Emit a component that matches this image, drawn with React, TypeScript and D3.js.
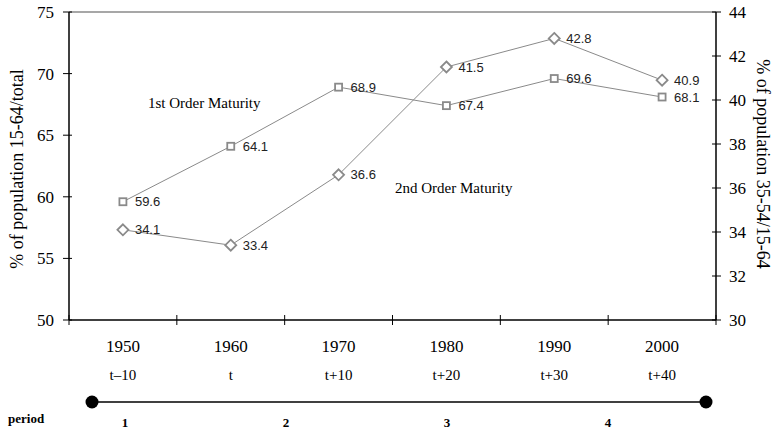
import React from 'react';
import * as d3 from 'd3';

// data
const years = ['1950', '1960', '1970', '1980', '1990', '2000'];
const relTime = ['t–10', 't', 't+10', 't+20', 't+30', 't+40'];
const firstOrder = [59.6, 64.1, 68.9, 67.4, 69.6, 68.1];   // left axis, squares
const secondOrder = [34.1, 33.4, 36.6, 41.5, 42.8, 40.9];  // right axis, diamonds
const leftTicks = [50, 55, 60, 65, 70, 75];
const rightTicks = [30, 32, 34, 36, 38, 40, 42, 44];
const periods = ['1', '2', '3', '4'];

const W = 774, H = 430;
const margin = { top: 12, left: 69, right: 58, bottom: 110 };
const serif = '"Liberation Serif", "Times New Roman", serif';
const sans = '"Liberation Sans", Arial, sans-serif';
const grey = '#8a8a8a';

export default function App() {
  const x = d3.scaleBand().domain(years).range([margin.left, W - margin.right]);
  const yL = d3.scaleLinear().domain([50, 75]).range([H - margin.bottom, margin.top]);
  const yR = d3.scaleLinear().domain([30, 44]).range([H - margin.bottom, margin.top]);
  const cx = (i: number) => (x(years[i]) as number) + x.bandwidth() / 2;
  const bottom = H - margin.bottom;
  const x0 = margin.left, x1 = W - margin.right;

  const lineL = d3.line<number>().x((d, i) => cx(i)).y(d => yL(d));
  const lineR = d3.line<number>().x((d, i) => cx(i)).y(d => yR(d));

  // period strip
  const pScale = d3.scalePoint().domain(periods).range([125, 608]);
  const stripY = 402;

  return (
    <svg width={W} height={H} style={{ position: 'absolute', left: 0, top: 0 }}>
      <rect width={W} height={H} fill="#fff" />
      {/* top frame line */}
      <line x1={x0} x2={x1} y1={margin.top} y2={margin.top} stroke={grey} strokeWidth={1.5} />
      {/* left axis */}
      <line x1={x0} x2={x0} y1={margin.top} y2={bottom} stroke="#000" strokeWidth={1.5} />
      {leftTicks.map(t => (
        <g key={t}>
          <line x1={x0 - 6} x2={x0 + 3} y1={yL(t)} y2={yL(t)} stroke="#000" />
          <text x={x0 - 15} y={yL(t)} dy="0.35em" textAnchor="end" fontFamily={serif} fontSize={17}>{t}</text>
        </g>
      ))}
      {/* right axis */}
      <line x1={x1} x2={x1} y1={margin.top} y2={bottom} stroke="#000" strokeWidth={1.5} />
      {rightTicks.map(t => (
        <g key={t}>
          <line x1={x1 - 4} x2={x1 + 5} y1={yR(t)} y2={yR(t)} stroke="#000" />
          <text x={x1 + 13} y={yR(t)} dy="0.35em" fontFamily={serif} fontSize={17}>{t}</text>
        </g>
      ))}
      {/* bottom axis */}
      <line x1={x0} x2={x1} y1={bottom} y2={bottom} stroke="#000" strokeWidth={1.5} />
      {years.map((yr, i) => (
        <g key={yr}>
          <line x1={x(yr)} x2={x(yr)} y1={bottom - 5} y2={bottom + 5} stroke="#000" />
          <text x={cx(i)} y={346} dy="0.35em" textAnchor="middle" fontFamily={serif} fontSize={17}>{yr}</text>
          <text x={cx(i)} y={375} dy="0.35em" textAnchor="middle" fontFamily={serif} fontSize={15}>{relTime[i]}</text>
        </g>
      ))}
      <line x1={x1} x2={x1} y1={bottom - 5} y2={bottom + 5} stroke="#000" />

      {/* axis titles */}
      <text transform={`translate(17,169) rotate(-90)`} textAnchor="middle"
        dy="0.35em" fontFamily={serif} fontSize={18}>% of population 15-64/total</text>
      <text transform={`translate(763,164) rotate(90)`} textAnchor="middle"
        dy="0.35em" fontFamily={serif} fontSize={18}>% of population 35-54/15-64</text>

      {/* lines */}
      <path d={lineL(firstOrder) ?? ''} fill="none" stroke={grey} strokeWidth={1} />
      <path d={lineR(secondOrder) ?? ''} fill="none" stroke={grey} strokeWidth={1} />

      {/* markers and labels */}
      {firstOrder.map((v, i) => (
        <g key={'s' + i}>
          <rect x={cx(i) - 3.5} y={yL(v) - 3.5} width={7} height={7} fill="#fff" stroke={grey} strokeWidth={1.8} />
          <text x={cx(i) + 12} y={yL(v)} dy="0.35em" fontFamily={sans} fontSize={13} fill="#222">{v.toFixed(1)}</text>
        </g>
      ))}
      {secondOrder.map((v, i) => (
        <g key={'d' + i}>
          <path d={`M${cx(i)},${yR(v) - 5.5}L${cx(i) + 5.5},${yR(v)}L${cx(i)},${yR(v) + 5.5}L${cx(i) - 5.5},${yR(v)}Z`}
            fill="#fff" stroke={grey} strokeWidth={1.8} />
          <text x={cx(i) + 12} y={yR(v)} dy="0.35em" fontFamily={sans} fontSize={13} fill="#222">{v.toFixed(1)}</text>
        </g>
      ))}

      {/* annotations */}
      <text x={148} y={103} dy="0.35em" fontFamily={serif} fontSize={15}>1st Order Maturity</text>
      <text x={395} y={188} dy="0.35em" fontFamily={serif} fontSize={15}>2nd Order Maturity</text>

      {/* period strip */}
      <line x1={92} x2={706} y1={stripY} y2={stripY} stroke="#000" strokeWidth={1.5} />
      <circle cx={92} cy={stripY} r={6.5} fill="#000" />
      <circle cx={706} cy={stripY} r={6.5} fill="#000" />
      <text x={8} y={418} dy="0.35em" fontFamily={serif} fontSize={13} fontWeight="bold">period</text>
      {periods.map(p => (
        <text key={p} x={pScale(p)} y={422} dy="0.35em" textAnchor="middle" fontFamily={serif} fontSize={13} fontWeight="bold">{p}</text>
      ))}
    </svg>
  );
}
